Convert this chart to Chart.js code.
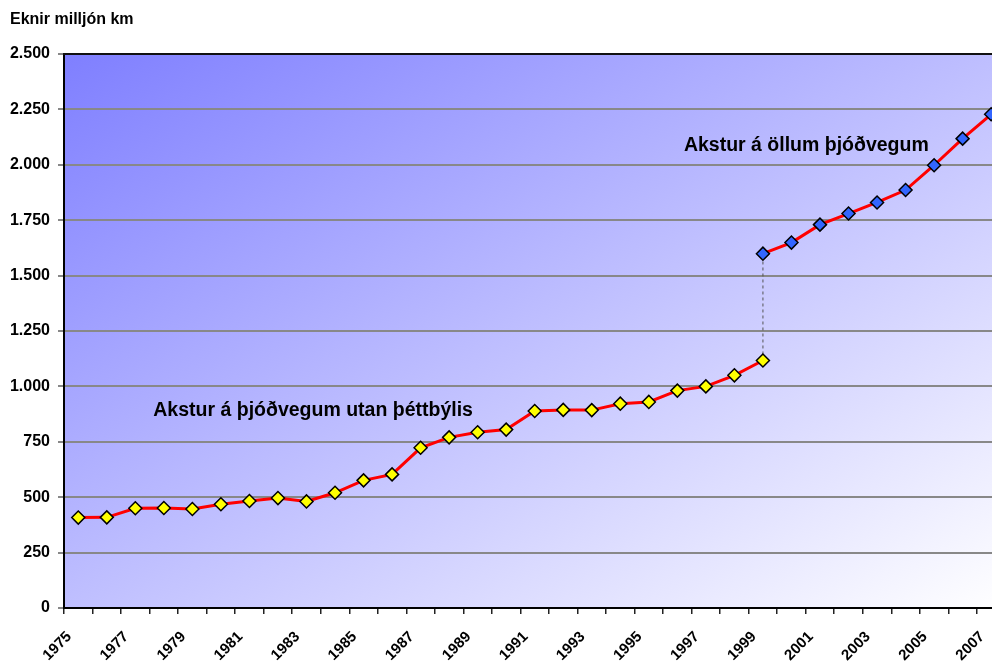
<!DOCTYPE html>
<html>
<head>
<meta charset="utf-8">
<script src="https://cdn.jsdelivr.net/npm/chart.js@4/dist/chart.umd.min.js"></script>
<style>
  html, body { margin: 0; padding: 0; background: #ffffff; overflow: hidden; }
  #wrap { width: 1018px; height: 661px; }
</style>
</head>
<body>
<div id="wrap"><canvas id="c" width="1018" height="661"></canvas></div>
<script>
// ---- data ----
const years = ['1975','1976','1977','1978','1979','1980','1981','1982','1983','1984','1985','1986','1987','1988','1989','1990','1991','1992','1993','1994','1995','1996','1997','1998','1999','2000','2001','2002','2003','2004','2005','2006','2007'];
// Akstur á þjóðvegum utan þéttbýlis, 1975–1999
const utanYears = ['1975','1976','1977','1978','1979','1980','1981','1982','1983','1984','1985','1986','1987','1988','1989','1990','1991','1992','1993','1994','1995','1996','1997','1998','1999'];
const utanValues = [408, 409, 450, 451, 447, 468, 483, 496, 481, 520, 576, 603, 723, 770, 793, 805, 889, 894, 893, 922, 930, 981, 1000, 1050, 1117];
// Akstur á öllum þjóðvegum, 1999–2007
const allirYears = ['1999','2000','2001','2002','2003','2004','2005','2006','2007'];
const allirValues = [1599, 1649, 1730, 1780, 1830, 1886, 1998, 2118, 2228];
const yTicks = [0, 250, 500, 750, 1000, 1250, 1500, 1750, 2000, 2250, 2500];
const axisTitle = 'Eknir milljón km';
const annotations = [
  { text: 'Akstur á þjóðvegum utan þéttbýlis', xIndex: 2.63, y: 890 },
  { text: 'Akstur á öllum þjóðvegum', xIndex: 21.23, y: 2086 }
];

function seriesFor(keys, vals) {
  return years.map(y => { const i = keys.indexOf(y); return i >= 0 ? vals[i] : null; });
}
const connector = [
  { x: '1999', y: utanValues[utanValues.length - 1] },
  { x: '1999', y: allirValues[0] }
];
function fmt(v) { return String(v).replace(/\B(?=(\d{3})+(?!\d))/g, '.'); }

const bgPlugin = {
  id: 'bg',
  beforeDraw(chart) {
    const a = chart.chartArea, ctx = chart.ctx;
    ctx.save();
    ctx.translate(a.left, a.top);
    ctx.scale(a.right - a.left, a.bottom - a.top);
    const g = ctx.createLinearGradient(0, 0, 1, 1);
    g.addColorStop(0, '#7f7fff');
    g.addColorStop(1, '#ffffff');
    ctx.fillStyle = g;
    ctx.fillRect(0, 0, 1, 1);
    ctx.restore();
  },
  afterDraw(chart) {
    const a = chart.chartArea, ctx = chart.ctx;
    ctx.save();
    // top frame of plot area
    ctx.strokeStyle = '#111';
    ctx.lineWidth = 2;
    ctx.beginPath();
    ctx.moveTo(a.left - 1, a.top);
    ctx.lineTo(a.right, a.top);
    ctx.stroke();
    // axis title
    ctx.fillStyle = '#000';
    ctx.font = 'bold 16px "Liberation Sans", Arial, sans-serif';
    ctx.textBaseline = 'middle';
    ctx.textAlign = 'left';
    ctx.fillText(axisTitle, 10, 20);
    // series annotations
    const xs = chart.scales.x, ys = chart.scales.y;
    ctx.font = 'bold 19.5px "Liberation Sans", Arial, sans-serif';
    annotations.forEach(an => {
      ctx.fillText(an.text, xs.getPixelForValue(an.xIndex), ys.getPixelForValue(an.y));
    });
    ctx.restore();
  }
};

new Chart(document.getElementById('c'), {
  type: 'line',
  data: {
    labels: years,
    datasets: [
      { label: 'utan', data: seriesFor(utanYears, utanValues), borderColor: '#ff0000', borderWidth: 3,
        pointStyle: 'rectRot', pointRadius: 6.5, pointBackgroundColor: '#ffff00', pointBorderColor: '#000000', pointBorderWidth: 1.5, order: 1 },
      { label: 'allir', data: seriesFor(allirYears, allirValues), borderColor: '#ff0000', borderWidth: 3,
        pointStyle: 'rectRot', pointRadius: 6.5, pointBackgroundColor: '#3366ff', pointBorderColor: '#000000', pointBorderWidth: 1.5, order: 2 },
      { label: 'connector', data: connector, borderColor: '#555555', borderWidth: 1, borderDash: [3, 3], pointRadius: 0, order: 10 }
    ]
  },
  options: {
    responsive: false,
    animation: false,
    events: [],
    layout: { padding: { top: 54, left: 0, right: 0, bottom: 0 } },
    plugins: { legend: { display: false }, tooltip: { enabled: false }, title: { display: false } },
    scales: {
      x: {
        type: 'category',
        offset: true,
        grid: { offset: true, drawOnChartArea: false, drawTicks: true, tickLength: 6, color: '#222', lineWidth: 1.5 },
        border: { display: true, color: '#000', width: 2 },
        ticks: {
          autoSkip: false, maxRotation: 45, minRotation: 45, padding: 14, labelOffset: -9, color: '#000',
          font: { family: '"Liberation Sans", Arial, sans-serif', size: 15, weight: 'bold' },
          callback: function (v, i) { return i % 2 === 0 ? this.getLabelForValue(v) : ''; }
        },
        afterFit(s) { s.height = 53; }
      },
      y: {
        min: 0, max: 2500,
        afterBuildTicks(s) { s.ticks = yTicks.map(v => ({ value: v })); },
        grid: { color: '#888888', lineWidth: 2, tickLength: 6, drawTicks: true },
        border: { display: true, color: '#000', width: 2 },
        ticks: { padding: 8, color: '#000', font: { family: '"Liberation Sans", Arial, sans-serif', size: 16, weight: 'bold' }, callback: v => fmt(v) },
        afterFit(s) { s.width = 64; }
      }
    }
  },
  plugins: [bgPlugin]
});
</script>
</body>
</html>
